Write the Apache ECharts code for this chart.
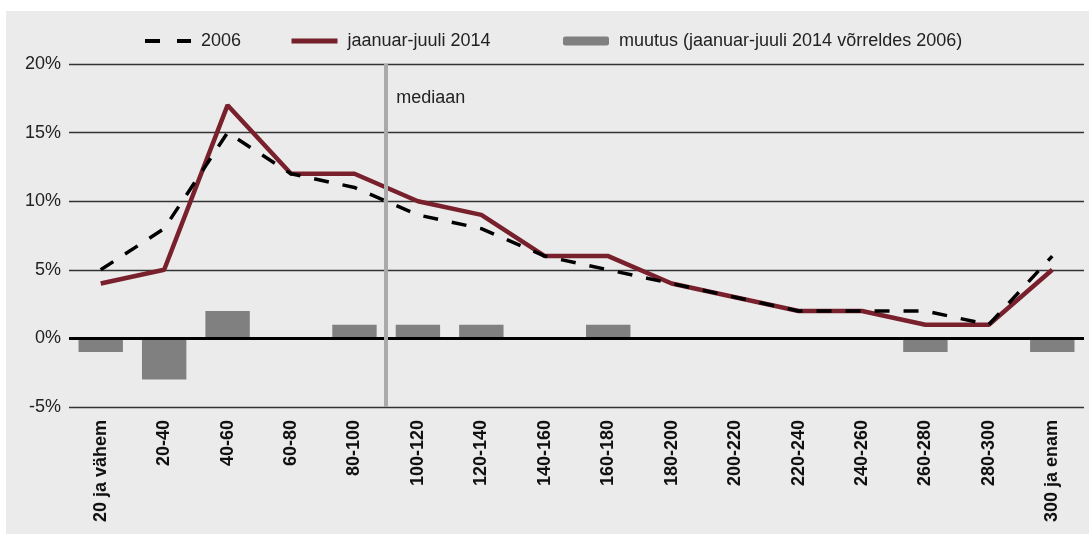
<!DOCTYPE html>
<html>
<head>
<meta charset="utf-8">
<script src="https://cdn.jsdelivr.net/npm/echarts@6/dist/echarts.min.js"></script>
<style>
  html, body { margin: 0; padding: 0; background: #fff; }
  #chart { position: absolute; left: 6px; top: 11px; width: 1083px; height: 523px; }
</style>
</head>
<body>
<div id="chart"></div>
<script>
var categories = ['20 ja vähem', '20-40', '40-60', '60-80', '80-100', '100-120', '120-140', '140-160',
  '160-180', '180-200', '200-220', '220-240', '240-260', '260-280', '280-300', '300 ja enam'];
var share2006 = [5, 8, 15, 12, 11, 9, 8, 6, 5, 4, 3, 2, 2, 2, 1, 6];
var share2014 = [4, 5, 17, 12, 12, 10, 9, 6, 6, 4, 3, 2, 2, 1, 1, 5];
var change = [-1, -3, 2, 0, 1, 1, 1, 0, 1, 0, 0, 0, 0, -1, 0, -1];
var yTicks = [-5, 0, 5, 10, 15, 20];
var medianAt = 5;        // category boundary between 80-100 and 100-120
var medianLabelY = 17.5;

var font = '"Liberation Sans", Arial, Helvetica, sans-serif';
var chart = echarts.init(document.getElementById('chart'), null, { renderer: 'canvas' });

var legendText = { color: '#222', fontSize: 18, fontFamily: font, padding: [0, 0, 0, 5] };
function legend(name, left, extra) {
  var l = { data: [name], left: left, top: 16, itemWidth: 46, itemHeight: 9,
    textStyle: legendText, selectedMode: false };
  for (var k in extra) l[k] = extra[k];
  return l;
}

chart.setOption({
  animation: false,
  backgroundColor: '#ebebeb',
  textStyle: { fontFamily: font },
  legend: [
    legend('2006', 132, { itemStyle: { opacity: 0 }, lineStyle: { width: 4, type: [15, 17], color: '#000' } }),
    legend('jaanuar-juuli 2014', 278, { itemStyle: { opacity: 0 }, lineStyle: { width: 5, color: '#75202b' } }),
    legend('muutus (jaanuar-juuli 2014 võrreldes 2006)', 552)
  ],
  grid: { left: 63, right: 5, top: 53, bottom: 127 },
  xAxis: [{
    type: 'category',
    data: categories,
    axisLine: { show: false },
    axisTick: { show: false },
    axisLabel: { rotate: 90, margin: 13, color: '#111', fontSize: 18, fontWeight: 'bold', fontFamily: font, interval: 0 }
  }, {
    type: 'value', min: 0, max: categories.length, show: false,
    splitLine: { show: false }, axisLine: { show: false }, axisLabel: { show: false }, axisTick: { show: false }
  }],
  yAxis: {
    type: 'value',
    min: yTicks[0], max: yTicks[yTicks.length - 1], interval: 5,
    axisLine: { show: false },
    axisTick: { show: false },
    axisLabel: { formatter: '{value}%', color: '#222', fontSize: 18, fontFamily: font, margin: 8 },
    splitLine: { lineStyle: { color: '#333', width: 1.3 } }
  },
  series: [{
    name: 'muutus (jaanuar-juuli 2014 võrreldes 2006)',
    type: 'bar',
    data: change,
    barWidth: '70%',
    itemStyle: { color: '#808080' },
    markLine: {
      silent: true, symbol: 'none', label: { show: false },
      lineStyle: { color: '#000', width: 3, type: 'solid' },
      data: [{ yAxis: 0 }]
    }
  }, {
    name: 'median',
    type: 'line',
    xAxisIndex: 1,
    data: [],
    markLine: {
      silent: true, symbol: 'none', label: { show: false },
      lineStyle: { color: '#aaaaaa', width: 4, type: 'solid' },
      data: [{ xAxis: medianAt }]
    },
    markPoint: {
      symbol: 'circle', symbolSize: 0,
      label: { show: true, position: 'right', distance: 10, formatter: 'mediaan', color: '#222', fontSize: 18, fontFamily: font },
      data: [{ coord: [medianAt, medianLabelY] }]
    }
  }, {
    name: '2006',
    type: 'line',
    data: share2006,
    symbol: 'none',
    z: 4,
    lineStyle: { color: '#000', width: 3.5, type: [15, 14] },
    itemStyle: { color: '#000' }
  }, {
    name: 'jaanuar-juuli 2014',
    type: 'line',
    data: share2014,
    symbol: 'none',
    z: 3,
    lineStyle: { color: '#78202c', width: 4.5 },
    itemStyle: { color: '#78202c' }
  }]
});
</script>
</body>
</html>
